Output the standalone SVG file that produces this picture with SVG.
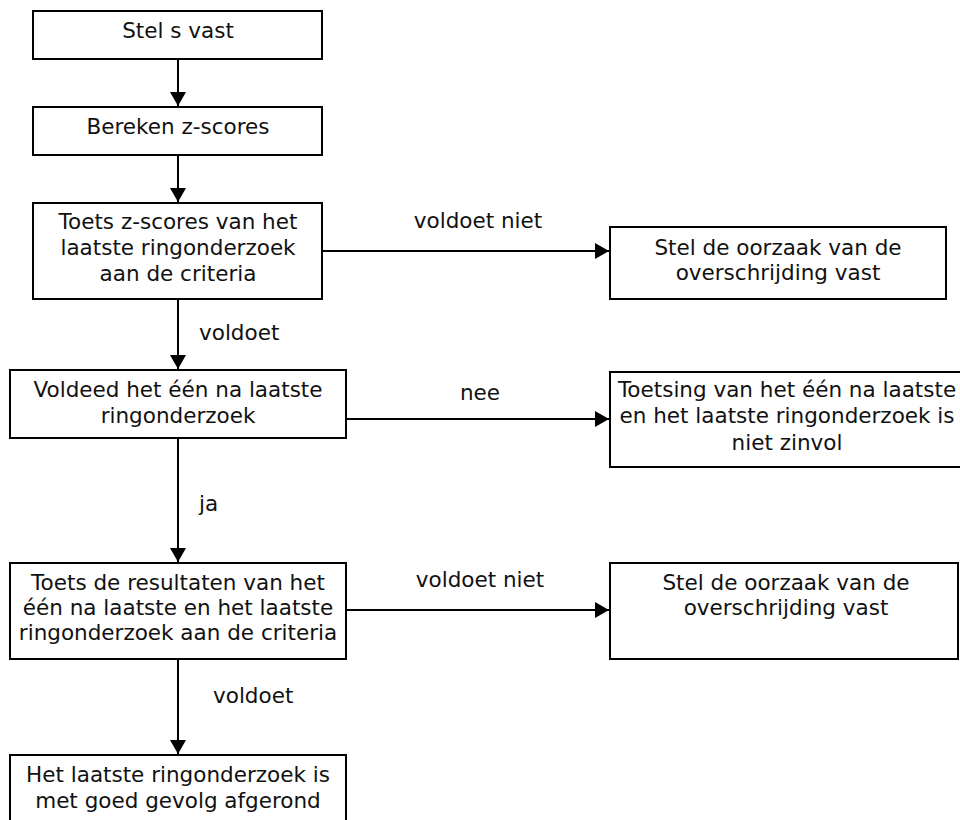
<svg xmlns="http://www.w3.org/2000/svg" width="960" height="820" viewBox="0 0 960 820">
<style>
.box{fill:#fff;stroke:#000;stroke-width:2}
text{font-family:"DejaVu Sans","Liberation Sans",sans-serif;font-size:21.5px;fill:#111}
.c{text-anchor:middle}
.edge{stroke:#000;stroke-width:2;fill:none}
</style>
<defs>
<marker id="ah" viewBox="0 0 7 8" refX="7" refY="4" markerWidth="7" markerHeight="8" markerUnits="strokeWidth" orient="auto">
<path d="M0,0 L7,4 L0,8 z" fill="#000"/>
</marker>
</defs>
<rect width="960" height="820" fill="#fff"/>
<g id="connectors">
<line class="edge" x1="178" y1="59" x2="178" y2="106" marker-end="url(#ah)"/>
<line class="edge" x1="178" y1="155" x2="178" y2="202" marker-end="url(#ah)"/>
<line class="edge" x1="322" y1="251" x2="609" y2="251" marker-end="url(#ah)"/>
<line class="edge" x1="178" y1="299" x2="178" y2="369" marker-end="url(#ah)"/>
<line class="edge" x1="346" y1="419" x2="609" y2="419" marker-end="url(#ah)"/>
<line class="edge" x1="178" y1="438" x2="178" y2="562" marker-end="url(#ah)"/>
<line class="edge" x1="346" y1="610" x2="609" y2="610" marker-end="url(#ah)"/>
<line class="edge" x1="178" y1="659" x2="178" y2="754" marker-end="url(#ah)"/>
<text class="c" x="478" y="228">voldoet niet</text>
<text x="199" y="340">voldoet</text>
<text class="c" x="480" y="400">nee</text>
<text x="199" y="511">ja</text>
<text class="c" x="480" y="587">voldoet niet</text>
<text x="213" y="703">voldoet</text>
</g>
<g id="n1"><rect class="box" x="33" y="11" width="289" height="48"/><text class="c" x="178" y="38">Stel s vast</text></g>
<g id="n2"><rect class="box" x="33" y="107" width="289" height="48"/><text class="c" x="178" y="134">Bereken z-scores</text></g>
<g id="n3"><rect class="box" x="33" y="203" width="289" height="96"/>
<text class="c" x="178" y="229">Toets z-scores van het</text>
<text class="c" x="178" y="255">laatste ringonderzoek</text>
<text class="c" x="178" y="281">aan de criteria</text></g>
<g id="n4"><rect class="box" x="610" y="227" width="336" height="72"/>
<text class="c" x="778" y="255">Stel de oorzaak van de</text>
<text class="c" x="778" y="280">overschrijding vast</text></g>
<g id="n5"><rect class="box" x="10" y="370" width="336" height="68"/>
<text class="c" x="178" y="397">Voldeed het één na laatste</text>
<text class="c" x="178" y="423">ringonderzoek</text></g>
<g id="n6"><rect class="box" x="610" y="372" width="358" height="95"/>
<text class="c" x="787" y="397">Toetsing van het één na laatste</text>
<text class="c" x="787" y="423">en het laatste ringonderzoek is</text>
<text class="c" x="787" y="450">niet zinvol</text></g>
<g id="n7"><rect class="box" x="10" y="563" width="336" height="96"/>
<text class="c" x="178" y="590">Toets de resultaten van het</text>
<text class="c" x="178" y="615">één na laatste en het laatste</text>
<text class="c" x="178" y="640">ringonderzoek aan de criteria</text></g>
<g id="n8"><rect class="box" x="610" y="563" width="348" height="96"/>
<text class="c" x="786" y="590">Stel de oorzaak van de</text>
<text class="c" x="786" y="615">overschrijding vast</text></g>
<g id="n9"><rect class="box" x="10" y="755" width="336" height="80"/>
<text class="c" x="178" y="782">Het laatste ringonderzoek is</text>
<text class="c" x="178" y="808">met goed gevolg afgerond</text></g>
</svg>
